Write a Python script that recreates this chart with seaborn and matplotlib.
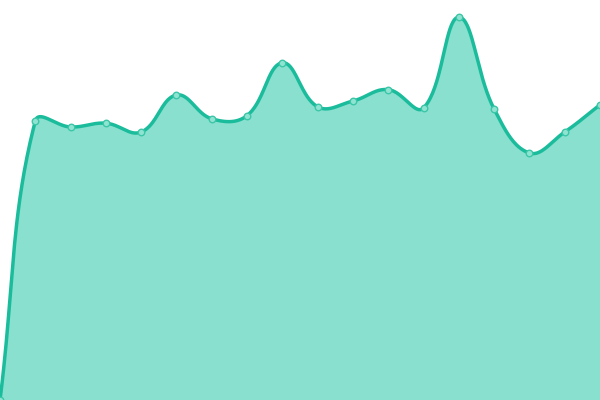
import numpy as np
import matplotlib
matplotlib.use("Agg")
import matplotlib.pyplot as plt
import seaborn as sns

sns.set_theme(style="white")

labels = [str(i) for i in range(18)]
values = [0, 69.75, 68.25, 69.2, 67.0, 76.25, 70.3, 71.1, 84.3, 73.3,
          74.75, 77.6, 73.0, 95.7, 72.75, 61.75, 67.0, 73.8]

LINE = "#1abc9c"
FILL = "#89e0cf"

fig = plt.figure(figsize=(6, 4), dpi=100)
ax = fig.add_axes([0, 0, 1, 1])
ax.set_xlim(0, len(values) - 1)
ax.set_ylim(0, 100)
ax.axis("off")

x = np.arange(len(values), dtype=float)
y = np.array(values, dtype=float)

# Chart.js-style cardinal bezier (tension 0.4), computed in pixel space
pts = ax.transData.transform(np.column_stack([x, y]))
t = 0.4
n = len(pts)
cp_prev = np.zeros_like(pts)
cp_next = np.zeros_like(pts)
for i in range(n):
    prev = pts[max(i - 1, 0)]
    cur = pts[i]
    nxt = pts[min(i + 1, n - 1)]
    d01 = np.hypot(*(cur - prev))
    d12 = np.hypot(*(nxt - cur))
    tot = d01 + d12
    s01 = d01 / tot if tot else 0
    s12 = d12 / tot if tot else 0
    cp_prev[i] = cur - t * s01 * (nxt - prev)
    cp_next[i] = cur + t * s12 * (nxt - prev)

curve = []
ts = np.linspace(0, 1, 40)[:, None]
for i in range(n - 1):
    p0, p1, p2, p3 = pts[i], cp_next[i], cp_prev[i + 1], pts[i + 1]
    seg = ((1 - ts) ** 3) * p0 + 3 * ((1 - ts) ** 2) * ts * p1 + 3 * (1 - ts) * ts ** 2 * p2 + ts ** 3 * p3
    curve.append(seg if i == 0 else seg[1:])
curve = np.vstack(curve)
curve_data = ax.transData.inverted().transform(curve)
cx, cy = curve_data[:, 0], curve_data[:, 1]

ax.fill_between(cx, 0, cy, color=FILL, linewidth=0, zorder=1)
ax.plot(cx, cy, color=LINE, linewidth=2.5, zorder=2, solid_capstyle="round")
sns.scatterplot(x=x, y=y, ax=ax, s=22, color="#8fe3d1", edgecolor="#3cc6a8",
                linewidth=1.0, zorder=3, legend=False)

fig.savefig("out.png", dpi=100)
